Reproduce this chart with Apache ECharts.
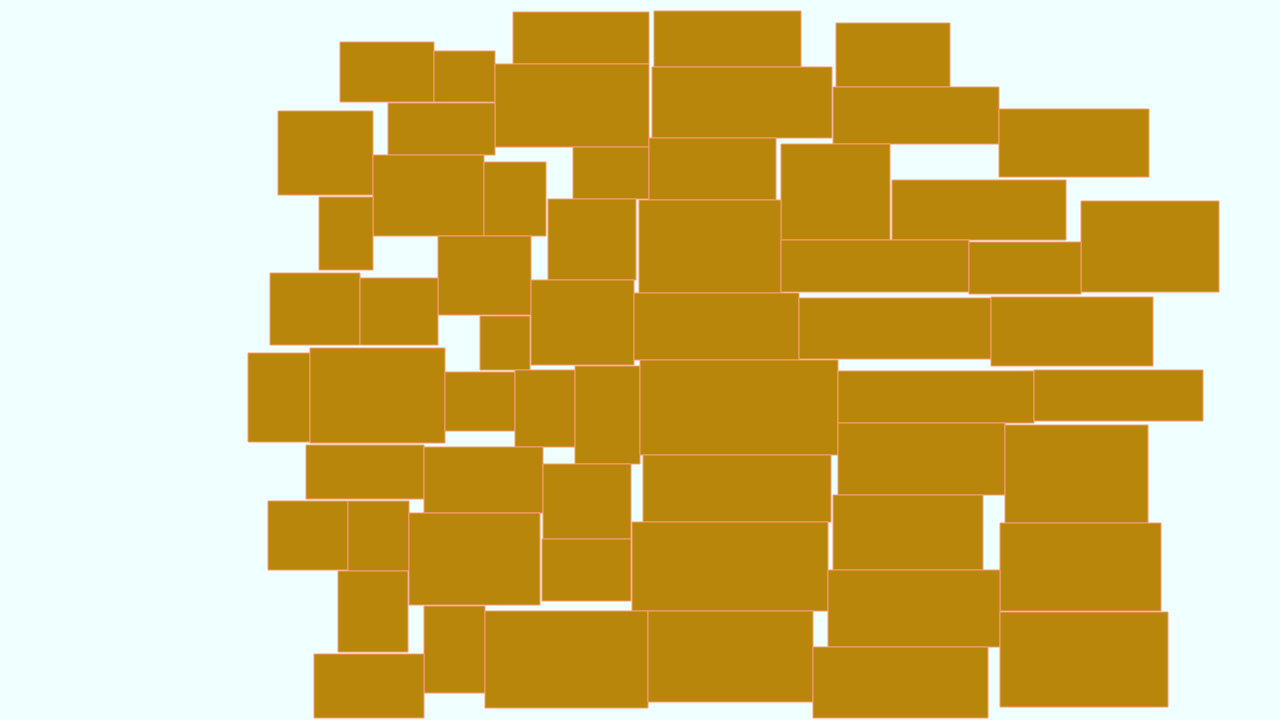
<!DOCTYPE html>
<html>
<head>
<meta charset="utf-8">
<script src="https://cdn.jsdelivr.net/npm/echarts@6/dist/echarts.min.js"></script>
<style>html,body{margin:0;padding:0;background:#f0ffff;}#main{width:1280px;height:720px;}</style>
</head>
<body>
<div id="main"></div>
<script>
var rectLeft   = [340,434,513,654,836,495,652,833,999,278,388,573,649,781,373,484,892,319,548,639,1081,781,969,438,270,360,531,634,799,991,480,248,310,445,515,575,640,838,1034,838,1005,306,424,543,643,833,268,348,409,542,632,1000,828,338,424,485,648,1000,813,314];
var rectTop    = [42,51,12,11,23,64,67,87,109,111,103,147,138,144,155,162,180,197,199,200,201,240,242,236,273,278,280,293,298,297,316,353,348,372,370,366,360,371,370,423,425,445,447,464,455,495,501,501,513,539,522,523,570,571,606,611,611,612,647,654];
var rectRight  = [434,495,649,801,950,649,832,999,1149,373,495,649,776,890,484,546,1066,373,636,781,1219,969,1081,531,360,438,634,799,991,1153,530,310,445,515,575,640,838,1034,1203,1005,1148,424,543,631,831,983,348,409,540,631,828,1161,1000,408,485,648,813,1168,988,424];
var rectBottom = [102,102,64,67,87,147,138,144,177,195,155,199,200,240,236,236,240,270,280,293,292,292,294,315,345,345,365,360,359,366,370,442,443,431,447,464,455,423,421,495,523,499,513,539,522,570,570,571,605,601,611,611,647,652,693,708,702,707,718,718];

var data = rectLeft.map(function (l, i) {
  return [l, rectTop[i], rectRight[i], rectBottom[i]];
});

var chart = echarts.init(document.getElementById('main'));
chart.setOption({
  backgroundColor: '#f0ffff',
  animation: false,
  grid: {left: 0, right: 0, top: 0, bottom: 0},
  xAxis: {type: 'value', min: 0, max: 1280, show: false},
  yAxis: {type: 'value', min: 0, max: 720, inverse: true, show: false},
  series: [{
    type: 'custom',
    data: data,
    encode: {x: [0, 2], y: [1, 3]},
    renderItem: function (params, api) {
      var p0 = api.coord([api.value(0), api.value(1)]);
      var p1 = api.coord([api.value(2), api.value(3)]);
      return {
        type: 'rect',
        shape: {x: p0[0], y: p0[1], width: p1[0] - p0[0], height: p1[1] - p0[1]},
        style: {fill: '#b8860b', stroke: '#fa9c74', lineWidth: 1}
      };
    }
  }]
});
</script>
</body>
</html>
